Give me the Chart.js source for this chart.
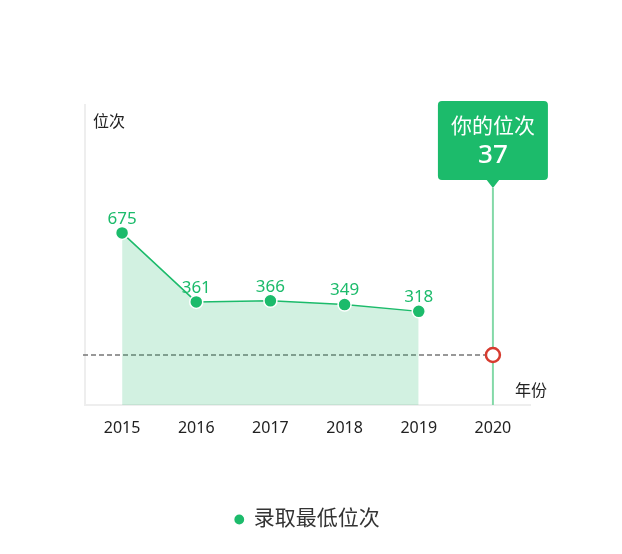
<!DOCTYPE html>
<html>
<head>
<meta charset="utf-8">
<script src="https://cdn.jsdelivr.net/npm/chart.js@4/dist/chart.umd.min.js"></script>
<style>
    html, body { margin: 0; padding: 0; background: #fff; }
    #wrap { width: 622px; height: 554px; }
</style>
</head>
<body>
<div id="wrap"><canvas id="rankChart"></canvas></div>
<script>
const years = ['2015', '2016', '2017', '2018', '2019', '2020'];
const minRanks = [675, 361, 366, 349, 318, null];
const myRank = [null, null, null, null, null, 37];
const seriesName = '录取最低位次';
const yTitle = '位次';
const xTitle = '年份';
const bubbleTitle = '你的位次';

const green = '#1cbb6b';
const fontFamily = '"Noto Sans", "Noto Sans CJK SC", sans-serif';

// labels, axis titles, 2020 marker line and the bubble
const decorPlugin = {
    id: 'decor',
    beforeDatasetsDraw(chart) {
        const ctx = chart.ctx;
        const area = chart.chartArea;
        const me = chart.getDatasetMeta(1).data[5];
        ctx.save();
        // vertical marker line
        ctx.strokeStyle = '#84d9a8';
        ctx.lineWidth = 2;
        ctx.beginPath();
        ctx.moveTo(me.x, 188);
        ctx.lineTo(me.x, area.bottom);
        ctx.stroke();
        // dashed line to my rank
        ctx.strokeStyle = '#777';
        ctx.lineWidth = 1.3;
        ctx.setLineDash([5, 3]);
        ctx.beginPath();
        ctx.moveTo(83, me.y);
        ctx.lineTo(me.x, me.y);
        ctx.stroke();
        ctx.restore();
    },
    afterDatasetsDraw(chart) {
        const ctx = chart.ctx;
        ctx.save();
        // value labels
        ctx.fillStyle = green;
        ctx.font = '17px ' + fontFamily;
        ctx.textAlign = 'center';
        ctx.textBaseline = 'middle';
        chart.getDatasetMeta(0).data.forEach((pt, i) => {
            if (minRanks[i] == null) return;
            ctx.fillText(String(minRanks[i]), pt.x, pt.y - 14);
        });
        // axis titles
        ctx.fillStyle = '#222';
        ctx.textAlign = 'left';
        ctx.font = '16px ' + fontFamily;
        ctx.fillText(yTitle, 93, 122);
        ctx.fillText(xTitle, 515, 391);

        // bubble
        const me = chart.getDatasetMeta(1).data[5];
        const bx = me.x - 55, by = 101, bw = 110, bh = 79;
        ctx.fillStyle = green;
        ctx.beginPath();
        ctx.roundRect(bx, by, bw, bh, 4);
        ctx.fill();
        ctx.beginPath();
        ctx.moveTo(me.x - 7, by + bh - 1);
        ctx.lineTo(me.x + 7, by + bh - 1);
        ctx.lineTo(me.x, by + bh + 8);
        ctx.closePath();
        ctx.fill();
        ctx.fillStyle = '#fff';
        ctx.textAlign = 'center';
        ctx.font = '21px ' + fontFamily;
        ctx.fillText(bubbleTitle, me.x, 127);
        ctx.font = '500 26px ' + fontFamily;
        ctx.fillText(String(myRank[5]), me.x, 156);
        ctx.restore();
    }
};

const ctx = document.getElementById('rankChart').getContext('2d');
const rankChart = new Chart(ctx, {
    type: 'line',
    data: {
        labels: years,
        datasets: [{
            label: seriesName,
            data: minRanks,
            borderColor: green,
            borderWidth: 1.5,
            backgroundColor: green,
            fill: { target: 'start', above: 'rgba(28, 187, 107, 0.2)' },
            pointRadius: 6.5,
            pointBorderColor: '#fff',
            pointBorderWidth: 1.5,
            pointBackgroundColor: green,
            tension: 0
        }, {
            label: bubbleTitle,
            data: myRank,
            yAxisID: 'y2',
            showLine: false,
            pointRadius: 7,
            pointBorderWidth: 2.5,
            pointBorderColor: '#d63b2f',
            pointBackgroundColor: '#fff'
        }]
    },
    options: {
        responsive: true,
        maintainAspectRatio: false,
        animation: false,
        layout: {
            padding: { left: 85, top: 105, right: 92, bottom: 14 }
        },
        scales: {
            x: {
                offset: true,
                grid: { display: false, drawTicks: false },
                border: { display: true, color: '#eee', width: 2 },
                ticks: {
                    color: '#222',
                    padding: 14,
                    font: { size: 16, family: fontFamily }
                },
                afterFit(scale) { scale.height = 94; }
            },
            y: {
                min: -108,
                max: 1257,
                grid: { display: false, drawTicks: false },
                border: { display: true, color: '#eee', width: 2 },
                ticks: { display: false }
            },
            y2: {
                display: false,
                min: 0,
                max: 222
            }
        },
        plugins: {
            legend: {
                position: 'bottom',
                labels: {
                    usePointStyle: true,
                    boxWidth: 8,
                    boxHeight: 8,
                    color: '#333',
                    font: { size: 21, family: fontFamily },
                    filter: (item) => item.datasetIndex === 0
                }
            },
            tooltip: { enabled: false }
        }
    },
    plugins: [decorPlugin]
});
</script>
</body>
</html>
